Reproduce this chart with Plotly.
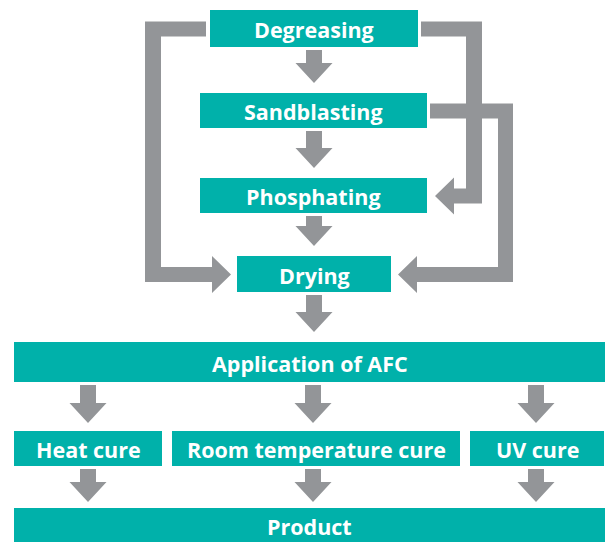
import plotly.graph_objects as go

# ---- data: process steps and flow ----
main_steps = ["Degreasing", "Sandblasting", "Phosphating", "Drying", "Application of AFC"]
cure_steps = ["Heat cure", "Room temperature cure", "UV cure"]
final_step = ["Product"]
bypass_flows = [("Degreasing", "Drying", "left"),
                ("Degreasing", "Phosphating", "right_inner"),
                ("Sandblasting", "Drying", "right_outer")]

# ---- layout geometry (pixels, y downward) ----
W, H = 608, 542
TEAL = "#00b1aa"
GRAY = "#939598"
FONT = "Open Sans"

box = {
    "Degreasing": (210, 418, 10, 47),
    "Sandblasting": (200, 427, 93, 128),
    "Phosphating": (200, 427, 178, 213),
    "Drying": (237, 391, 256, 292),
    "Application of AFC": (14, 605, 342, 382),
    "Heat cure": (14, 162, 431, 466),
    "Room temperature cure": (172, 460, 431, 466),
    "UV cure": (470, 604, 431, 466),
    "Product": (14, 605, 508, 560),
}

shapes = []
annotations = []


def poly(points):
    d = "M " + " L ".join(f"{x},{y}" for x, y in points) + " Z"
    shapes.append(dict(type="path", path=d, xref="x", yref="y",
                       fillcolor=GRAY, line=dict(width=0), layer="below"))


def down_arrow(cx, y0, y2, shaft=16, head=37, hlen=20):
    y1 = y2 - hlen
    s, h = shaft / 2, head / 2
    poly([(cx - s, y0), (cx + s, y0), (cx + s, y1), (cx + h, y1), (cx, y2),
          (cx - h, y1), (cx - s, y1)])


# boxes and labels
for name in main_steps + cure_steps + final_step:
    x0, x1, y0, y1 = box[name]
    shapes.append(dict(type="rect", x0=x0, x1=x1, y0=y0, y1=y1, xref="x", yref="y",
                       fillcolor=TEAL, line=dict(width=0), layer="above"))
    ty = (y0 + min(y1, H)) / 2 + 1
    annotations.append(dict(x=(x0 + x1) / 2, y=ty, xref="x", yref="y", text=name,
                            showarrow=False, xanchor="center", yanchor="middle",
                            font=dict(family=FONT, size=21.5, color="white", weight="bold")))

# main column arrows
COL = 314
for a, b in zip(main_steps[:-1], main_steps[1:]):
    down_arrow(COL, box[a][3] + 3, box[b][2] - 10)

# AFC -> cures, cures -> product
for c in cure_steps:
    cx = {"Heat cure": 88, "Room temperature cure": 313, "UV cure": 536}[c]
    down_arrow(cx, box["Application of AFC"][3] + 3, box[c][2] - 8)
    down_arrow(cx, box[c][3] + 3, box["Product"][2] - 6)

# bypass loops
for src, dst, side in bypass_flows:
    sx0, sx1, sy0, sy1 = box[src]
    dx0, dx1, dy0, dy1 = box[dst]
    sc = (sy0 + sy1) / 2 + 0.5
    dc = (dy0 + dy1) / 2 + 0.5
    t = 7.5
    if side == "left":
        xo, xi = 145, 161
        xs = sx0 - 4
        tip = dx0 - 6
        base = tip - 19
        poly([(xs, sc - t), (xo, sc - t), (xo, dc + t), (base, dc + t), (base, dc + 18.5),
              (tip, dc), (base, dc - 18.5), (base, dc - t), (xi, dc - t), (xi, sc + t),
              (xs, sc + t)])
    else:
        xo, xi = (482, 466) if side == "right_inner" else (513, 498)
        xs = sx1 + 3
        tip = dx1 + 7 if side == "right_outer" else dx1 + 8
        base = tip + 19
        poly([(xs, sc - t), (xo, sc - t), (xo, dc + t), (base, dc + t), (base, dc + 18.5),
              (tip, dc), (base, dc - 18.5), (base, dc - t), (xi, dc - t), (xi, sc + t),
              (xs, sc + t)])

fig = go.Figure()
fig.update_layout(
    width=W, height=H,
    margin=dict(l=0, r=0, t=0, b=0),
    paper_bgcolor="white", plot_bgcolor="white",
    xaxis=dict(range=[0, W], visible=False, fixedrange=True),
    yaxis=dict(range=[H, 0], visible=False, fixedrange=True),
    shapes=shapes, annotations=annotations, showlegend=False,
)
fig.write_html("out.html", config={"displayModeBar": False},
               post_script="document.body.style.margin='0';document.body.style.overflow='hidden';")
